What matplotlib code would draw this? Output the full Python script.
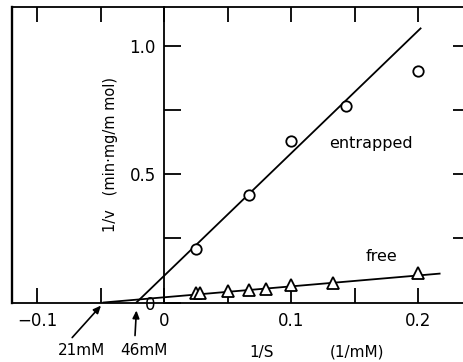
import matplotlib
matplotlib.use("Agg")
import matplotlib.pyplot as plt
import numpy as np

# Lineweaver-Burk data: 1/S (1/mM) and 1/v (min·mg/mmol)
inv_s_entrapped = [0.025, 0.0667, 0.1, 0.143, 0.2]
inv_v_entrapped = [0.207, 0.418, 0.629, 0.766, 0.906]

inv_s_free = [0.025, 0.0286, 0.05, 0.0667, 0.08, 0.1, 0.133, 0.2]
inv_v_free = [0.039, 0.039, 0.043, 0.047, 0.053, 0.068, 0.078, 0.115]

# Fitted lines: Km (mM) and 1/Vmax intercepts
km_entrapped = 46
km_free = 21
inv_vmax_entrapped = 0.104
inv_vmax_free = 0.0203
line_end_entrapped = 0.202
line_end_free = 0.217

x_ticks_major = [-0.1, 0, 0.1, 0.2]
x_tick_labels = ["\u22120.1", "0", "0.1", "0.2"]
x_ticks_minor = [-0.05, 0.05, 0.15]
y_ticks_major = [0, 0.5, 1.0]
y_tick_labels = ["0", "0.5", "1.0"]
y_ticks_minor = [0.25, 0.75]

fig = plt.figure(figsize=(4.64, 3.62), dpi=100)
rect = [12 / 464, 1 - 302.5 / 362, 1 - 12 / 464, 295.5 / 362]
xlim = (-0.1197, 0.2362)
ylim = (0, 1.154)

# overlay axes carrying only the inward ticks on the right edge
ax_r = fig.add_axes(rect, frameon=False)
ax_r.set_xlim(xlim)
ax_r.set_ylim(ylim)
ax_r.xaxis.set_visible(False)
ax_r.yaxis.set_ticks_position("right")
ax_r.set_yticks(y_ticks_minor + y_ticks_major[1:])
ax_r.set_yticklabels([])
ax_r.tick_params(axis="y", direction="in", length=8, width=1.3)

ax = fig.add_axes(rect)
ax.set_xlim(xlim)
ax.set_ylim(ylim)
ax.patch.set_alpha(0)

lw = 1.3
for s in ["top", "bottom"]:
    ax.spines[s].set_linewidth(lw)
ax.spines["right"].set_visible(False)
ax.spines["left"].set_position(("data", 0))
ax.spines["left"].set_linewidth(lw)
# outer left frame
ax.axvline(xlim[0], color="black", lw=lw * 1.3, clip_on=False)

ax.set_xticks(x_ticks_major)
ax.set_xticklabels(x_tick_labels)
ax.set_xticks(x_ticks_minor, minor=True)
ax.set_yticks(y_ticks_major)
ax.set_yticklabels(y_tick_labels)
ax.set_yticks(y_ticks_minor, minor=True)

ax.tick_params(axis="x", which="both", direction="in", top=True, bottom=True,
               length=11, width=lw, labelsize=12, pad=7)
ax.tick_params(axis="y", which="both", direction="in", left=True, right=False,
               length=12, width=lw, labelsize=12, pad=6)

# regression lines
xe = np.array([-1 / km_entrapped, line_end_entrapped])
ax.plot(xe, inv_vmax_entrapped * (1 + km_entrapped * xe), color="black", lw=lw)
xf = np.array([-1 / km_free, line_end_free])
ax.plot(xf, inv_vmax_free * (1 + km_free * xf), color="black", lw=lw)

# data points
ax.plot(inv_s_entrapped, inv_v_entrapped, "o", ms=7.5, mfc="white", mec="black", mew=1.3, zorder=5)
ax.plot(inv_s_free, inv_v_free, "^", ms=8, mfc="white", mec="black", mew=1.3, zorder=5)

ax.text(0.163, 0.62, "entrapped", fontsize=11.5, ha="center", va="center")
ax.text(0.171, 0.18, "free", fontsize=11.5, ha="center", va="center")

ax.text(-0.0425, 0.578, "1/v   (min\u00b7mg/m mol)", rotation=90, fontsize=10.5,
        ha="center", va="center")

ax.text(0.077, -0.195, "1/S", fontsize=11, ha="center", va="center", clip_on=False)
ax.text(0.152, -0.195, "(1/mM)", fontsize=11, ha="center", va="center", clip_on=False)

# Km arrows
for km, txt_dx, tail, head in [(km_free, -0.017, (-0.0247, -0.137), -0.012),
                               (km_entrapped, 0.006, (-0.0011, -0.129), -0.031)]:
    x0 = -1 / km
    ax.annotate("", xy=(x0 - 0.002 if km == km_free else x0, head),
                xytext=(x0 + tail[0], tail[1]),
                arrowprops=dict(arrowstyle="-|>,head_length=0.45,head_width=0.2",
                                color="black", lw=1.2, shrinkA=0, shrinkB=0),
                annotation_clip=False)
    ax.text(x0 + txt_dx, -0.188, f"{km}mM",
            fontsize=11, ha="center", va="center", clip_on=False)

fig.savefig("out.png", dpi=100)
